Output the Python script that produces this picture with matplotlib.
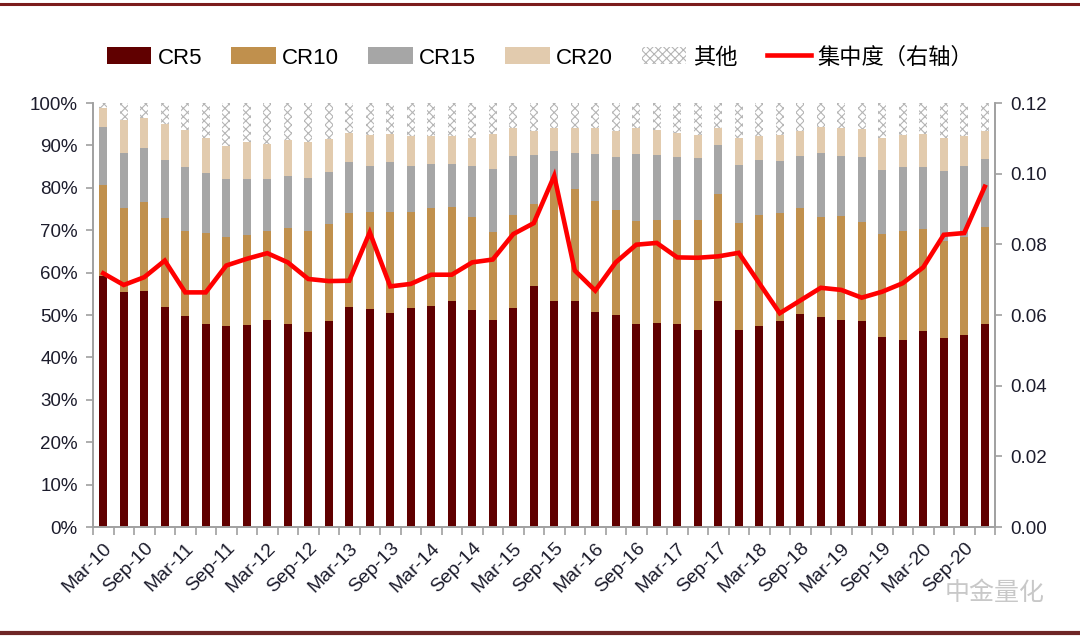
import matplotlib
matplotlib.use("Agg")
import matplotlib.pyplot as plt
from matplotlib.patches import Patch
from matplotlib.lines import Line2D
import numpy as np

plt.rcParams['font.family'] = ['Liberation Sans', 'Noto Sans CJK SC', 'DejaVu Sans']
plt.rcParams['hatch.linewidth'] = 0.8

# quarterly categories Mar-10 ... Dec-20
months = ['Mar', 'Jun', 'Sep', 'Dec']
categories = [f"{m}-{y:02d}" for y in range(10, 21) for m in months]

# cumulative concentration ratios (%)
CR5 = [59.3, 55.4, 55.6, 52.0, 49.8, 47.8, 47.4, 47.7, 48.9, 47.8,
       46.0, 48.5, 51.8, 51.4, 50.4, 51.6, 52.2, 53.2, 51.1, 48.9,
       51.7, 56.9, 53.2, 53.2, 50.7, 50.1, 47.9, 48.2, 47.8, 46.4,
       53.2, 46.4, 47.5, 48.5, 50.3, 49.5, 48.9, 48.5, 44.8, 44.2,
       46.2, 44.6, 45.4, 47.9]
CR10 = [80.7, 75.2, 76.7, 72.8, 69.8, 69.3, 68.3, 68.9, 69.9, 70.5,
        69.9, 71.5, 74.0, 74.4, 74.4, 74.4, 75.2, 75.4, 73.2, 69.6,
        73.6, 76.2, 81.0, 79.6, 76.8, 74.8, 72.1, 72.5, 72.4, 72.5,
        78.5, 71.8, 73.6, 74.0, 75.2, 73.0, 73.4, 72.0, 69.1, 69.9,
        70.3, 67.5, 68.5, 70.7]
CR15 = [94.4, 88.3, 89.5, 86.6, 84.9, 83.4, 82.0, 82.0, 82.0, 82.7,
        82.3, 83.7, 86.0, 85.2, 86.1, 85.2, 85.7, 85.6, 85.2, 84.5,
        87.5, 87.8, 88.7, 88.2, 87.9, 87.3, 87.9, 87.7, 87.3, 87.0,
        90.1, 85.4, 86.6, 86.4, 87.6, 88.2, 87.6, 87.3, 84.2, 84.9,
        84.9, 84.0, 85.2, 86.8]
CR20 = [98.9, 96.0, 96.5, 95.0, 93.6, 91.8, 89.9, 90.8, 90.3, 91.2,
        90.9, 91.5, 92.9, 92.4, 92.8, 92.2, 92.2, 92.2, 91.8, 92.6,
        94.0, 93.3, 94.0, 94.0, 94.0, 93.3, 94.0, 93.6, 93.0, 92.5,
        94.0, 91.8, 92.1, 92.4, 93.4, 94.4, 94.0, 93.8, 91.8, 92.5,
        92.6, 91.8, 92.1, 93.4]
TOTAL = 100.0
concentration = [0.0718, 0.0685, 0.0707, 0.0754, 0.0664, 0.0664, 0.0740, 0.0759, 0.0775, 0.0749,
                 0.0702, 0.0696, 0.0697, 0.0834, 0.0681, 0.0688, 0.0714, 0.0714, 0.0749, 0.0757,
                 0.0829, 0.0860, 0.0994, 0.0726, 0.0669, 0.0749, 0.0799, 0.0804, 0.0763, 0.0762,
                 0.0766, 0.0776, 0.0690, 0.0605, 0.0641, 0.0677, 0.0671, 0.0649, 0.0666, 0.0690,
                 0.0735, 0.0827, 0.0832, 0.0963]

series_names = ['CR5', 'CR10', 'CR15', 'CR20', '其他', '集中度（右轴）']
left_ticks = [0, 10, 20, 30, 40, 50, 60, 70, 80, 90, 100]
right_ticks = [0.00, 0.02, 0.04, 0.06, 0.08, 0.10, 0.12]

c5, c10, c15, c20 = '#600000', '#C0904D', '#A6A6A6', '#E2CBAE'
hatch_col = '#B5B5B5'
line_col = '#FF0000'
tick_col = '#1c1c2c'
axis_col = '#A0A0A0'

fig = plt.figure(figsize=(10.8, 6.4), dpi=100)
ax = fig.add_axes([93/1080, 1-527/640, (995-93)/1080, (527-103)/640])
ax2 = ax.twinx()

x = np.arange(len(categories))
a5 = np.array(CR5); a10 = np.array(CR10); a15 = np.array(CR15); a20 = np.array(CR20)
w = 0.4
ax.bar(x, a5, w, color=c5, linewidth=0, zorder=2)
ax.bar(x, a10 - a5, w, bottom=a5, color=c10, linewidth=0, zorder=2)
ax.bar(x, a15 - a10, w, bottom=a10, color=c15, linewidth=0, zorder=2)
ax.bar(x, a20 - a15, w, bottom=a15, color=c20, linewidth=0, zorder=2)
ax.bar(x, TOTAL - a20, w, bottom=a20, facecolor='white', edgecolor=hatch_col,
       hatch='xxxx', linewidth=0, zorder=2)

ax2.plot(x, concentration, color=line_col, lw=3.3, solid_joinstyle='miter', zorder=5)

ax.set_xlim(-0.5, len(categories) - 0.5)
ax.set_ylim(0, 100)
ax2.set_ylim(0, 0.12)

ax.set_yticks(left_ticks)
ax.set_yticklabels([f"{v}%" for v in left_ticks])
ax2.set_yticks(right_ticks)
ax2.set_yticklabels([f"{v:.2f}" for v in right_ticks])

ax.set_xticks(x[::2])
ax.set_xticklabels(categories[::2], rotation=45, ha='right', va='top',
                   rotation_mode='anchor')
ax.set_xticks(np.arange(-0.5, len(categories), 1.0), minor=True)
ax.tick_params(axis='x', which='major', length=0, pad=9, labelsize=14, labelcolor=tick_col)
ax.tick_params(axis='x', which='minor', length=6, width=1.2, color=axis_col, direction='out')
ax.tick_params(axis='y', length=5, width=1.2, color=axis_col, labelsize=13.5,
               labelcolor=tick_col, pad=6)
ax2.tick_params(axis='y', length=5, width=1.2, color=axis_col, labelsize=13.5,
                labelcolor=tick_col, pad=6)

for a in (ax, ax2):
    a.spines['top'].set_visible(False)
    for s in ('left', 'right', 'bottom'):
        a.spines[s].set_color(axis_col)
        a.spines[s].set_linewidth(1.2)

handles = [Patch(facecolor=c5), Patch(facecolor=c10), Patch(facecolor=c15),
           Patch(facecolor=c20),
           Patch(facecolor='white', edgecolor=hatch_col, hatch='xxxx', linewidth=0),
           Line2D([0], [0], color=line_col, lw=3.3)]
fig.legend(handles, series_names, loc='center', bbox_to_anchor=(0.5, 1-58/640),
           ncol=6, frameon=False, fontsize=16, handlelength=2.0, handleheight=0.8,
           handletextpad=0.3, columnspacing=1.3)

fig.add_artist(Line2D([0, 1], [1-3.5/640, 1-3.5/640], color='#7B1C1C', lw=2.2,
                      transform=fig.transFigure))
fig.add_artist(Line2D([0, 1], [1-633/640, 1-633/640], color='#6E2626', lw=3,
                      transform=fig.transFigure))

fig.text(1045/1080, 1-593/640, '中金量化', ha='right', va='center', fontsize=18,
         color='#C8C8C8', family=['Noto Sans CJK SC'])

fig.savefig('out.png', dpi=100)
